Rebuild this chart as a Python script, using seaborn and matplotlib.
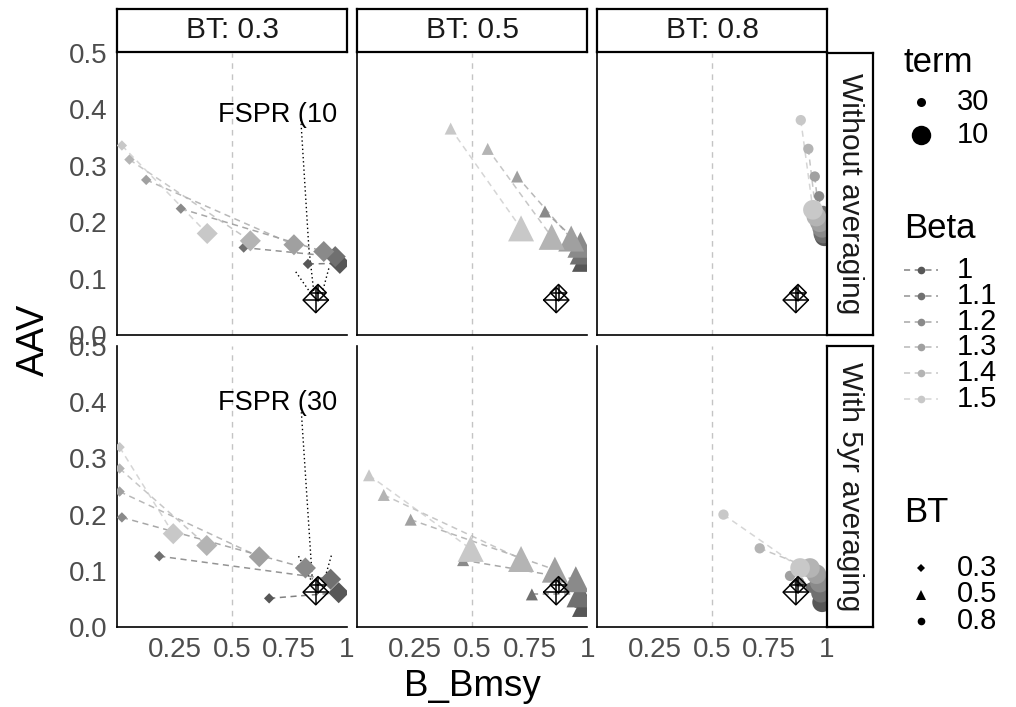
import numpy as np
import pandas as pd
import matplotlib
matplotlib.use("Agg")
import matplotlib.pyplot as plt
import seaborn as sns
from matplotlib.lines import Line2D

sns.set_theme(style="white")
plt.rcParams['font.family'] = ['Liberation Sans', 'DejaVu Sans']

# ---------------- data ----------------
betas = ['1', '1.1', '1.2', '1.3', '1.4', '1.5']
beta_colors = ['#575757', '#707070', '#8a8a8a', '#a0a0a0', '#b4b4b4', '#c8c8c8']
bt_levels = ['0.3', '0.5', '0.8']
avg_levels = ['Without averaging', 'With 5yr averaging']
terms = [30, 10]

# Without averaging, BT 0.3
wo03_x30 = [0.831, 0.551, 0.277, 0.126, 0.053, 0.020]
wo03_y30 = [0.126, 0.155, 0.224, 0.275, 0.311, 0.336]
wo03_x10 = [0.970, 0.950, 0.900, 0.770, 0.580, 0.392]
wo03_y10 = [0.127, 0.139, 0.148, 0.160, 0.167, 0.180]
# Without averaging, BT 0.5
wo05_x30 = [0.960, 0.930, 0.816, 0.695, 0.567, 0.406]
wo05_y30 = [0.150, 0.180, 0.219, 0.281, 0.330, 0.366]
wo05_x10 = [0.990, 0.980, 0.970, 0.930, 0.845, 0.712]
wo05_y10 = [0.135, 0.148, 0.160, 0.171, 0.174, 0.189]
# Without averaging, BT 0.8
wo08_x30 = [0.990, 0.985, 0.967, 0.948, 0.920, 0.887]
wo08_y30 = [0.200, 0.220, 0.246, 0.281, 0.330, 0.381]
wo08_x10 = [0.990, 0.985, 0.980, 0.970, 0.955, 0.940]
wo08_y10 = [0.175, 0.180, 0.190, 0.200, 0.210, 0.222]
# With 5yr averaging, BT 0.3
w03_x30 = [0.662, 0.183, 0.020, 0.010, 0.010, 0.010]
w03_y30 = [0.051, 0.126, 0.195, 0.241, 0.282, 0.320]
w03_x10 = [0.965, 0.930, 0.820, 0.619, 0.390, 0.244]
w03_y10 = [0.061, 0.085, 0.105, 0.125, 0.145, 0.166]
# With 5yr averaging, BT 0.5
w05_x30 = [0.970, 0.759, 0.460, 0.232, 0.115, 0.051]
w05_y30 = [0.045, 0.058, 0.119, 0.191, 0.235, 0.270]
w05_x10 = [0.990, 0.966, 0.950, 0.859, 0.712, 0.493]
w05_y10 = [0.041, 0.058, 0.085, 0.102, 0.121, 0.139]
# With 5yr averaging, BT 0.8
w08_x30 = [0.970, 0.930, 0.880, 0.840, 0.708, 0.550]
w08_y30 = [0.050, 0.070, 0.080, 0.091, 0.140, 0.200]
w08_x10 = [0.980, 0.975, 0.970, 0.955, 0.927, 0.884]
w08_y10 = [0.044, 0.061, 0.079, 0.094, 0.105, 0.105]

# FSPR reference points (term 10, term 30)
fspr_x = [0.865, 0.875]
fspr_y = [0.062, 0.075]
fspr_term = [10, 30]
fspr_labels = ['FSPR (10', 'FSPR (30']
fspr_label_x = [0.44, 0.44]
fspr_label_y = [0.390, 0.398]
# leader segments (x0, y0, x1, y1) in BT 0.3 panels
lead_row1 = [(0.800, 0.382, 0.835, 0.154), (0.835, 0.154, 0.857, 0.075),
             (0.778, 0.112, 0.850, 0.070), (0.922, 0.118, 0.890, 0.070)]
lead_row2 = [(0.800, 0.397, 0.850, 0.085), (0.790, 0.126, 0.855, 0.075),
             (0.933, 0.127, 0.900, 0.080)]

panel_arrays = {
    ('Without averaging', '0.3'): (wo03_x30, wo03_y30, wo03_x10, wo03_y10),
    ('Without averaging', '0.5'): (wo05_x30, wo05_y30, wo05_x10, wo05_y10),
    ('Without averaging', '0.8'): (wo08_x30, wo08_y30, wo08_x10, wo08_y10),
    ('With 5yr averaging', '0.3'): (w03_x30, w03_y30, w03_x10, w03_y10),
    ('With 5yr averaging', '0.5'): (w05_x30, w05_y30, w05_x10, w05_y10),
    ('With 5yr averaging', '0.8'): (w08_x30, w08_y30, w08_x10, w08_y10),
}

rows = []
for (avg, bt), (x30, y30, x10, y10) in panel_arrays.items():
    for i, b in enumerate(betas):
        rows.append(dict(avg=avg, BT=bt, Beta=b, term=30, B_Bmsy=x30[i], AAV=y30[i], order=i * 2))
        rows.append(dict(avg=avg, BT=bt, Beta=b, term=10, B_Bmsy=x10[i], AAV=y10[i], order=i * 2 + 1))
df = pd.DataFrame(rows)

pal = dict(zip(betas, beta_colors))
bt_marker = {'0.3': 'D', '0.5': '^', '0.8': 'o'}
bt_sizes = {'0.3': {30: 28, 10: 115}, '0.5': {30: 75, 10: 350}, '0.8': {30: 55, 10: 200}}

# ---------------- layout ----------------
W, H = 1016, 707
fig = plt.figure(figsize=(W / 100, H / 100), dpi=100)

def fx(p):
    return p / W

def fy(p):
    return 1 - p / H

cols_px = [(117.3, 346.7), (357.3, 587.3), (597.3, 826.7)]
rows_px = [(53, 335), (346, 627)]
tick_col = '#4d4d4d'
TICK_FS = 20
STRIP_FS = 21.5

for ri, avg in enumerate(avg_levels):
    for ci, bt in enumerate(bt_levels):
        l, r = cols_px[ci]
        t, b = rows_px[ri]
        ax = fig.add_axes([fx(l), fy(b), (r - l) / W, (b - t) / H])
        ax.set_facecolor('white')
        sub = df[(df.avg == avg) & (df.BT == bt)].sort_values('order')
        ax.axvline(0.5, color='#c4c4c4', lw=1.0, ls=(0, (4, 4)), zorder=0)
        sns.lineplot(data=sub, x='B_Bmsy', y='AAV', hue='Beta', hue_order=betas,
                     palette=pal, estimator=None, sort=False, legend=False, ax=ax,
                     lw=1.1, alpha=0.75, linestyle=(0, (4, 3)), zorder=2)
        sns.scatterplot(data=sub, x='B_Bmsy', y='AAV', hue='Beta', hue_order=betas,
                        palette=pal, size='term', sizes=bt_sizes[bt], marker=bt_marker[bt],
                        linewidth=0, legend=False, ax=ax, zorder=3)
        # FSPR reference symbols (diamond plus)
        for k in range(len(fspr_x)):
            big = fspr_term[k] == 10
            ax.scatter([fspr_x[k]], [fspr_y[k]], marker='D', s=165 if big else 70,
                       facecolors='none', edgecolors='black', linewidths=1.1, zorder=4)
            ax.scatter([fspr_x[k]], [fspr_y[k]], marker='+', s=330 if big else 140,
                       color='black', linewidths=1.1, zorder=4)
        if ci == 0:
            segs = lead_row1 if ri == 0 else lead_row2
            for (x0, y0, x1, y1) in segs:
                ax.plot([x0, x1], [y0, y1], color='black', lw=1.0, ls=(0, (1, 2.0)), zorder=1)
            ax.text(fspr_label_x[ri], fspr_label_y[ri], fspr_labels[ri], fontsize=19.5,
                    ha='left', va='center', color='black', clip_on=True, zorder=5)
        ax.set_xlim(0, 1)
        ax.set_ylim(0, 0.5)
        ax.set_xlabel('')
        ax.set_ylabel('')
        for s in ['top', 'right']:
            ax.spines[s].set_visible(False)
        for s in ['left', 'bottom']:
            ax.spines[s].set_color('black')
            ax.spines[s].set_linewidth(1.2)
        ax.set_xticks([0.25, 0.5, 0.75, 1.0])
        ax.set_yticks([0, 0.1, 0.2, 0.3, 0.4, 0.5])
        ax.tick_params(axis='both', length=4, width=1, color='#333333',
                       labelsize=TICK_FS, labelcolor=tick_col, pad=3)
        if ri == 1:
            ax.set_xticklabels(['0.25', '0.5', '0.75', '1'])
        else:
            ax.tick_params(axis='x', length=0, labelbottom=False)
        if ci == 0:
            ax.set_yticklabels(['0.0', '0.1', '0.2', '0.3', '0.4', '0.5'])
        else:
            ax.tick_params(axis='y', length=0, labelleft=False)

        # top strips
        if ri == 0:
            sax = fig.add_axes([fx(l), fy(52), (r - l) / W, (52 - 9) / H])
            sax.set_xticks([]); sax.set_yticks([])
            for s in sax.spines.values():
                s.set_color('black'); s.set_linewidth(1.6)
            sax.set_facecolor('white')
            sax.text(0.5, 0.5, f'BT: {bt}', ha='center', va='center', fontsize=STRIP_FS,
                     color='#1a1a1a', transform=sax.transAxes)
        # right strips
        if ci == 2:
            sax = fig.add_axes([fx(827), fy(b), (873 - 827) / W, (b - t) / H])
            sax.set_xticks([]); sax.set_yticks([])
            for s in sax.spines.values():
                s.set_color('black'); s.set_linewidth(1.6)
            sax.set_facecolor('white')
            sax.text(0.5, 0.5, avg, ha='center', va='center', fontsize=STRIP_FS,
                     rotation=-90, color='#1a1a1a', transform=sax.transAxes)

# axis titles
fig.text(fx(34), fy(340), 'AAV', rotation=90, ha='center', va='center', fontsize=27, color='black')
fig.text(fx(472), fy(686), 'B_Bmsy', ha='center', va='center', fontsize=26.5, color='black')

# ---------------- legends ----------------
LEG_TITLE_FS = 25
LEG_FS = 21
kx = 921
tx = 957

def add_marker(xp, yp, **kw):
    fig.add_artist(Line2D([fx(xp)], [fy(yp)], transform=fig.transFigure, linestyle='none', **kw))

fig.text(fx(904), fy(62), 'term', ha='left', va='center', fontsize=LEG_TITLE_FS, color='black')
for yp, lab, ms in [(102, '30', 6.5), (135, '10', 14)]:
    add_marker(kx, yp, marker='o', markersize=ms, color='black', markeredgewidth=0)
    fig.text(fx(tx), fy(yp), lab, ha='left', va='center', fontsize=LEG_FS, color='black')

fig.text(fx(904), fy(228), 'Beta', ha='left', va='center', fontsize=LEG_TITLE_FS, color='black')
for i, (lab, col) in enumerate(zip(betas, beta_colors)):
    yp = 270 + i * 25.8
    fig.add_artist(Line2D([fx(904), fx(938)], [fy(yp), fy(yp)], transform=fig.transFigure,
                          color=col, lw=1.1, alpha=0.75, ls=(0, (4, 3))))
    add_marker(kx, yp, marker='o', markersize=5.5, color=col, markeredgewidth=0)
    fig.text(fx(tx), fy(yp), lab, ha='left', va='center', fontsize=LEG_FS, color='black')

fig.text(fx(904), fy(513), 'BT', ha='left', va='center', fontsize=LEG_TITLE_FS, color='black')
for i, (lab, mk, ms) in enumerate(zip(bt_levels, ['D', '^', 'o'], [4.5, 6.5, 5.5])):
    yp = 568 + i * 26.5
    add_marker(kx, yp, marker=mk, markersize=ms, color='black', markeredgewidth=0)
    fig.text(fx(tx), fy(yp), lab, ha='left', va='center', fontsize=LEG_FS, color='black')

fig.savefig('out.png', dpi=100, facecolor='white')
